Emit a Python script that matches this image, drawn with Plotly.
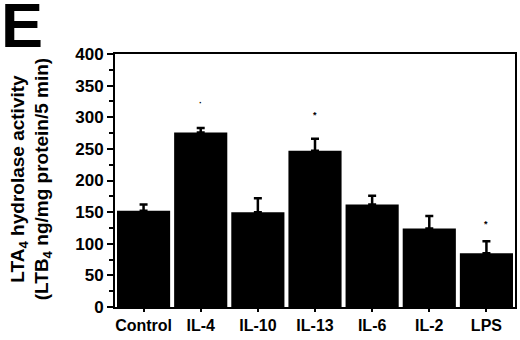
import plotly.graph_objects as go

categories = ["Control", "IL-4", "IL-10", "IL-13", "IL-6", "IL-2", "LPS"]
values = [152, 276, 150, 247, 162, 124, 85]
errors = [10, 7, 22, 19, 14, 20, 19]
star_cats = ["IL-4", "IL-13", "LPS"]
star_text = ["·", "*", "*"]
star_y = [322, 304, 132]
yticks = [0, 50, 100, 150, 200, 250, 300, 350, 400]

FONT = "Liberation Sans"

fig = go.Figure()
fig.add_trace(go.Bar(
    x=categories, y=values,
    marker=dict(color="black", line=dict(width=0)),
    error_y=dict(type="data", array=errors, arrayminus=[0]*len(errors),
                 symmetric=False, color="black", thickness=2.5, width=4),
))

for c, t, y in zip(star_cats, star_text, star_y):
    fig.add_annotation(x=c, y=y, text=t, showarrow=False,
                       font=dict(family=FONT, size=9, color="black"))

fig.add_annotation(xref="paper", yref="paper", x=-0.29, y=1.262, text="E",
                   showarrow=False, xanchor="left", yanchor="top",
                   font=dict(family=FONT, size=63, color="black", weight="bold"))
fig.add_annotation(xref="paper", yref="paper", x=-0.21, y=0.505,
                   text="LTA<sub>4</sub> hydrolase activity<br>(LTB<sub>4</sub> ng/mg protein/5 min)",
                   showarrow=False, textangle=-90, xanchor="center", yanchor="middle",
                   font=dict(family=FONT, size=19, color="black", weight="bold"))

fig.update_layout(
    width=520, height=340,
    margin=dict(l=115, r=3, t=54, b=33),
    plot_bgcolor="white", paper_bgcolor="white",
    bargap=0.07, showlegend=False,
    font=dict(family=FONT, color="black", weight="bold"),
    xaxis=dict(range=[-0.5, 6.5], showline=True, linecolor="black", linewidth=2,
               mirror=True, ticks="outside", ticklen=3, tickwidth=1.5, tickcolor="black",
               tickfont=dict(family=FONT, size=16, color="black", weight="bold"),
               showgrid=False, zeroline=False),
    yaxis=dict(range=[0, 400], tickvals=yticks, showline=True, linecolor="black",
               linewidth=2, mirror=True, ticks="outside", ticklen=6, tickwidth=2,
               tickcolor="black",
               minor=dict(dtick=25, ticks="outside", ticklen=4, tickwidth=1.5,
                          tickcolor="black", showgrid=False),
               tickfont=dict(family=FONT, size=17, color="black", weight="bold"),
               showgrid=False, zeroline=False),
)

fig.write_html("out.html", config={"displayModeBar": False},
               post_script="document.body.style.margin='0';")
